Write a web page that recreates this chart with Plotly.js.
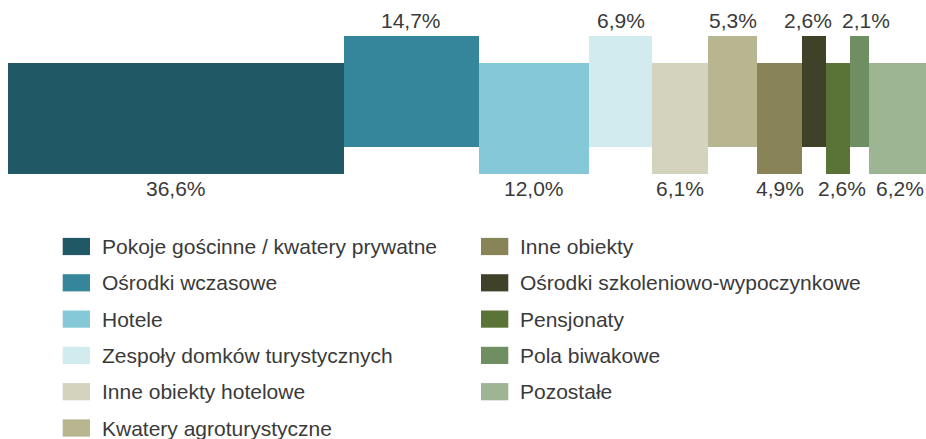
<!DOCTYPE html>
<html>
<head>
<meta charset="utf-8">
<script src="https://cdn.plot.ly/plotly-3.0.1.min.js"></script>
<style>html,body{margin:0;padding:0;background:#fff;}#chart{width:926px;height:439px;}</style>
</head>
<body>
<div id="chart"></div>
<script>
var categories = [
  "Pokoje gościnne / kwatery prywatne",
  "Ośrodki wczasowe",
  "Hotele",
  "Zespoły domków turystycznych",
  "Inne obiekty hotelowe",
  "Kwatery agroturystyczne",
  "Inne obiekty",
  "Ośrodki szkoleniowo-wypoczynkowe",
  "Pensjonaty",
  "Pola biwakowe",
  "Pozostałe"
];
var shares = [36.6, 14.7, 12.0, 6.9, 6.1, 5.3, 4.9, 2.6, 2.6, 2.1, 6.2];
var colors = ["#215866", "#35869B", "#85C9D8", "#D2EBEF", "#D4D3BE", "#B8B591",
              "#898358", "#3F4129", "#5A7337", "#6F8F63", "#9DB592"];

var W = 926, H = 439, ML = 8;
var font = "'Liberation Sans', Arial, Helvetica, sans-serif";
var textColor = "#3a3a3a";
var raise = 0.243;

var centers = [], bases = [], heights = [], cum = 0;
shares.forEach(function (v, i) {
  centers.push(cum + v / 2);
  cum += v;
  bases.push(i % 2 === 1 ? raise : 0);
  heights.push(1);
});

var fmt = function (v) { return v.toFixed(1).replace(".", ",") + "%"; };
var labelXShift = [0, 0, 0, 0, 0, 0, 0, -6, 4, 7, 2];

var trace = {
  type: "bar",
  x: centers,
  y: heights,
  base: bases,
  width: shares,
  marker: { color: colors, line: { width: 0 } },
  hoverinfo: "skip",
  showlegend: false
};

var annotations = [];
shares.forEach(function (v, i) {
  var up = i % 2 === 1;
  annotations.push({
    x: centers[i], xref: "x",
    y: up ? bases[i] + 1 : bases[i], yref: "y",
    text: fmt(v), showarrow: false,
    xanchor: "center", yanchor: "middle",
    yshift: up ? 15 : -15, xshift: labelXShift[i],
    font: { family: font, size: 21, color: textColor }
  });
});

var shapes = [];
var plotW = W - ML;
function px2x(px) { return (px - ML) / plotW; }
function py2y(py) { return (H - py) / H; }
var colsX = [62.7, 481];
var rowY0 = 246.5, rowStep = 36.3;
categories.forEach(function (name, i) {
  var col = i < 6 ? 0 : 1;
  var row = i < 6 ? i : i - 6;
  var cy = rowY0 + row * rowStep;
  var sx = colsX[col];
  shapes.push({
    type: "rect", xref: "paper", yref: "paper",
    x0: px2x(sx), x1: px2x(sx + 27.3),
    y0: py2y(cy + 8.6), y1: py2y(cy - 8.6),
    fillcolor: colors[i], line: { width: 0 }
  });
  annotations.push({
    xref: "paper", yref: "paper",
    x: px2x(sx + 37), y: py2y(cy),
    text: name, showarrow: false,
    xanchor: "left", yanchor: "middle",
    font: { family: font, size: 21, color: textColor }
  });
});

var yBottom = -(H - 173.7) / 111;
var yTop = 1 + 62.7 / 111;

var layout = {
  width: W, height: H,
  margin: { l: ML, r: 0, t: 0, b: 0, pad: 0 },
  paper_bgcolor: "#ffffff", plot_bgcolor: "#ffffff",
  xaxis: { range: [0, 100], visible: false, fixedrange: true },
  yaxis: { range: [yBottom, yTop], visible: false, fixedrange: true },
  bargap: 0,
  showlegend: false,
  hovermode: false,
  annotations: annotations,
  shapes: shapes
};

Plotly.newPlot("chart", [trace], layout, { displayModeBar: false, staticPlot: true });
</script>
</body>
</html>
